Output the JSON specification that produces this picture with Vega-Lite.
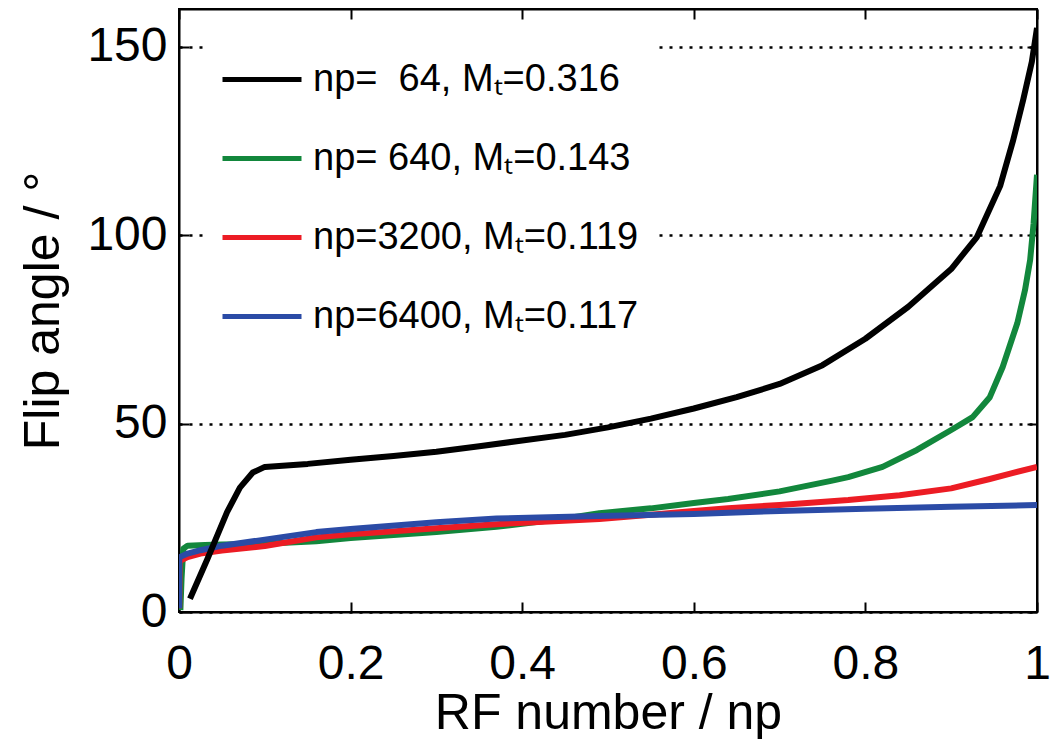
{
  "$schema": "https://vega.github.io/schema/vega-lite/v6.json",
  "autosize": {"type": "none"},
  "padding": {"left": 179, "top": 9, "right": 13, "bottom": 132},
  "width": 858,
  "height": 603,
  "background": "white",
  "config": {
    "view": {"stroke": "black", "strokeWidth": 2},
    "font": "Liberation Sans",
    "axis": {"labelFont": "Liberation Sans", "titleFont": "Liberation Sans", "labelColor": "black", "titleColor": "black", "domainColor": "black", "tickColor": "black", "domainWidth": 2, "tickWidth": 2, "titleFontWeight": "normal", "labelFlush": false}
  },
  "data": {"values": [
    {"s": "np=\u00a0640, M\u209c=0.143", "x": 0.0016, "y": 0.5},
    {"s": "np=\u00a0640, M\u209c=0.143", "x": 0.003, "y": 9},
    {"s": "np=\u00a0640, M\u209c=0.143", "x": 0.005, "y": 16.8},
    {"s": "np=\u00a0640, M\u209c=0.143", "x": 0.01, "y": 17.6},
    {"s": "np=\u00a0640, M\u209c=0.143", "x": 0.03, "y": 17.8},
    {"s": "np=\u00a0640, M\u209c=0.143", "x": 0.05, "y": 17.9},
    {"s": "np=\u00a0640, M\u209c=0.143", "x": 0.1, "y": 18.1},
    {"s": "np=\u00a0640, M\u209c=0.143", "x": 0.16, "y": 18.8},
    {"s": "np=\u00a0640, M\u209c=0.143", "x": 0.2, "y": 19.6},
    {"s": "np=\u00a0640, M\u209c=0.143", "x": 0.3, "y": 21.2},
    {"s": "np=\u00a0640, M\u209c=0.143", "x": 0.37, "y": 22.6},
    {"s": "np=\u00a0640, M\u209c=0.143", "x": 0.45, "y": 24.8},
    {"s": "np=\u00a0640, M\u209c=0.143", "x": 0.49, "y": 26.2},
    {"s": "np=\u00a0640, M\u209c=0.143", "x": 0.55, "y": 27.5},
    {"s": "np=\u00a0640, M\u209c=0.143", "x": 0.6, "y": 28.9},
    {"s": "np=\u00a0640, M\u209c=0.143", "x": 0.64, "y": 30},
    {"s": "np=\u00a0640, M\u209c=0.143", "x": 0.7, "y": 32},
    {"s": "np=\u00a0640, M\u209c=0.143", "x": 0.76, "y": 34.8},
    {"s": "np=\u00a0640, M\u209c=0.143", "x": 0.78, "y": 35.8},
    {"s": "np=\u00a0640, M\u209c=0.143", "x": 0.82, "y": 38.5},
    {"s": "np=\u00a0640, M\u209c=0.143", "x": 0.86, "y": 43},
    {"s": "np=\u00a0640, M\u209c=0.143", "x": 0.9, "y": 48.3},
    {"s": "np=\u00a0640, M\u209c=0.143", "x": 0.925, "y": 51.7},
    {"s": "np=\u00a0640, M\u209c=0.143", "x": 0.945, "y": 57},
    {"s": "np=\u00a0640, M\u209c=0.143", "x": 0.96, "y": 65},
    {"s": "np=\u00a0640, M\u209c=0.143", "x": 0.977, "y": 76.6},
    {"s": "np=\u00a0640, M\u209c=0.143", "x": 0.986, "y": 85.4},
    {"s": "np=\u00a0640, M\u209c=0.143", "x": 0.992, "y": 93.4},
    {"s": "np=\u00a0640, M\u209c=0.143", "x": 0.996, "y": 103},
    {"s": "np=\u00a0640, M\u209c=0.143", "x": 1.0, "y": 116},

    {"s": "np=3200, M\u209c=0.119", "x": 0.0003, "y": 1},
    {"s": "np=3200, M\u209c=0.119", "x": 0.0006, "y": 13.5},
    {"s": "np=3200, M\u209c=0.119", "x": 0.01, "y": 14.6},
    {"s": "np=3200, M\u209c=0.119", "x": 0.025, "y": 15.5},
    {"s": "np=3200, M\u209c=0.119", "x": 0.05, "y": 16.3},
    {"s": "np=3200, M\u209c=0.119", "x": 0.1, "y": 17.5},
    {"s": "np=3200, M\u209c=0.119", "x": 0.16, "y": 19.8},
    {"s": "np=3200, M\u209c=0.119", "x": 0.2, "y": 20.6},
    {"s": "np=3200, M\u209c=0.119", "x": 0.3, "y": 22.2},
    {"s": "np=3200, M\u209c=0.119", "x": 0.37, "y": 23.3},
    {"s": "np=3200, M\u209c=0.119", "x": 0.49, "y": 24.7},
    {"s": "np=3200, M\u209c=0.119", "x": 0.55, "y": 25.8},
    {"s": "np=3200, M\u209c=0.119", "x": 0.6, "y": 26.8},
    {"s": "np=3200, M\u209c=0.119", "x": 0.64, "y": 27.5},
    {"s": "np=3200, M\u209c=0.119", "x": 0.7, "y": 28.4},
    {"s": "np=3200, M\u209c=0.119", "x": 0.78, "y": 29.7},
    {"s": "np=3200, M\u209c=0.119", "x": 0.84, "y": 31},
    {"s": "np=3200, M\u209c=0.119", "x": 0.9, "y": 32.8},
    {"s": "np=3200, M\u209c=0.119", "x": 0.945, "y": 35.3},
    {"s": "np=3200, M\u209c=0.119", "x": 0.97, "y": 36.8},
    {"s": "np=3200, M\u209c=0.119", "x": 1.0, "y": 38.5},

    {"s": "np=6400, M\u209c=0.117", "x": 0.0001, "y": 1},
    {"s": "np=6400, M\u209c=0.117", "x": 0.0003, "y": 14.5},
    {"s": "np=6400, M\u209c=0.117", "x": 0.01, "y": 15.5},
    {"s": "np=6400, M\u209c=0.117", "x": 0.025, "y": 16.4},
    {"s": "np=6400, M\u209c=0.117", "x": 0.05, "y": 17.6},
    {"s": "np=6400, M\u209c=0.117", "x": 0.1, "y": 19.2},
    {"s": "np=6400, M\u209c=0.117", "x": 0.16, "y": 21.2},
    {"s": "np=6400, M\u209c=0.117", "x": 0.2, "y": 22},
    {"s": "np=6400, M\u209c=0.117", "x": 0.3, "y": 23.8},
    {"s": "np=6400, M\u209c=0.117", "x": 0.37, "y": 24.8},
    {"s": "np=6400, M\u209c=0.117", "x": 0.49, "y": 25.5},
    {"s": "np=6400, M\u209c=0.117", "x": 0.6, "y": 26},
    {"s": "np=6400, M\u209c=0.117", "x": 0.7, "y": 26.8},
    {"s": "np=6400, M\u209c=0.117", "x": 0.8, "y": 27.4},
    {"s": "np=6400, M\u209c=0.117", "x": 0.9, "y": 27.9},
    {"s": "np=6400, M\u209c=0.117", "x": 1.0, "y": 28.4},

    {"s": "np=\u00a0\u00a064, M\u209c=0.316", "x": 0.0128, "y": 3.5},
    {"s": "np=\u00a0\u00a064, M\u209c=0.316", "x": 0.033, "y": 14},
    {"s": "np=\u00a0\u00a064, M\u209c=0.316", "x": 0.056, "y": 26.5},
    {"s": "np=\u00a0\u00a064, M\u209c=0.316", "x": 0.071, "y": 33},
    {"s": "np=\u00a0\u00a064, M\u209c=0.316", "x": 0.086, "y": 37},
    {"s": "np=\u00a0\u00a064, M\u209c=0.316", "x": 0.1, "y": 38.5},
    {"s": "np=\u00a0\u00a064, M\u209c=0.316", "x": 0.15, "y": 39.3},
    {"s": "np=\u00a0\u00a064, M\u209c=0.316", "x": 0.2, "y": 40.4},
    {"s": "np=\u00a0\u00a064, M\u209c=0.316", "x": 0.25, "y": 41.4},
    {"s": "np=\u00a0\u00a064, M\u209c=0.316", "x": 0.3, "y": 42.5},
    {"s": "np=\u00a0\u00a064, M\u209c=0.316", "x": 0.35, "y": 44},
    {"s": "np=\u00a0\u00a064, M\u209c=0.316", "x": 0.4, "y": 45.5},
    {"s": "np=\u00a0\u00a064, M\u209c=0.316", "x": 0.45, "y": 47},
    {"s": "np=\u00a0\u00a064, M\u209c=0.316", "x": 0.5, "y": 49},
    {"s": "np=\u00a0\u00a064, M\u209c=0.316", "x": 0.55, "y": 51.3},
    {"s": "np=\u00a0\u00a064, M\u209c=0.316", "x": 0.6, "y": 54},
    {"s": "np=\u00a0\u00a064, M\u209c=0.316", "x": 0.65, "y": 57},
    {"s": "np=\u00a0\u00a064, M\u209c=0.316", "x": 0.7, "y": 60.5},
    {"s": "np=\u00a0\u00a064, M\u209c=0.316", "x": 0.75, "y": 65.5},
    {"s": "np=\u00a0\u00a064, M\u209c=0.316", "x": 0.8, "y": 72.5},
    {"s": "np=\u00a0\u00a064, M\u209c=0.316", "x": 0.85, "y": 81},
    {"s": "np=\u00a0\u00a064, M\u209c=0.316", "x": 0.9, "y": 91},
    {"s": "np=\u00a0\u00a064, M\u209c=0.316", "x": 0.93, "y": 99.5},
    {"s": "np=\u00a0\u00a064, M\u209c=0.316", "x": 0.957, "y": 113},
    {"s": "np=\u00a0\u00a064, M\u209c=0.316", "x": 0.972, "y": 125},
    {"s": "np=\u00a0\u00a064, M\u209c=0.316", "x": 0.984, "y": 136},
    {"s": "np=\u00a0\u00a064, M\u209c=0.316", "x": 0.994, "y": 146},
    {"s": "np=\u00a0\u00a064, M\u209c=0.316", "x": 1.0, "y": 155}
  ]},
  "layer": [
    {
      "mark": {"type": "line", "strokeWidth": 6, "strokeJoin": "round", "strokeCap": "butt", "clip": true},
      "encoding": {
        "x": {"field": "x", "type": "quantitative", "scale": {"domain": [0, 1], "nice": false, "zero": false},
          "axis": {"orient": "bottom", "values": [0, 0.2, 0.4, 0.6, 0.8, 1], "format": "~g", "labelFontSize": 48, "labelPadding": 38, "tickSize": -10, "title": "RF number / np", "titleFontSize": 50, "titlePadding": 0, "grid": false}},
        "y": {"field": "y", "type": "quantitative", "scale": {"domain": [0, 160], "nice": false, "zero": false},
          "axis": {"orient": "left", "values": [0, 50, 100, 150], "format": "d", "labelFontSize": 48, "labelPadding": 22, "tickSize": -10, "title": "Flip angle / \u00b0", "titleFontSize": 50, "titlePadding": 18, "grid": true, "gridColor": "black", "gridDash": [3, 7], "gridWidth": 2.5}},
        "color": {"field": "s", "type": "nominal",
          "scale": {"domain": ["np=\u00a0\u00a064, M\u209c=0.316", "np=\u00a0640, M\u209c=0.143", "np=3200, M\u209c=0.119", "np=6400, M\u209c=0.117"], "range": ["#000000", "#12873c", "#ec1c24", "#2b4ba6"]},
          "legend": {"orient": "none", "legendX": 24, "legendY": 14, "title": null, "fillColor": "white", "padding": 17, "symbolType": "stroke", "symbolSize": 6241, "symbolStrokeWidth": 5, "labelFontSize": 38, "labelFont": "Liberation Sans", "labelColor": "black", "labelOffset": 9, "rowPadding": 0, "clipHeight": 79, "labelLimit": 600}}
      }
    },
    {
      "mark": {"type": "line", "strokeOpacity": 0},
      "encoding": {
        "x": {"field": "x", "type": "quantitative", "scale": {"domain": [0, 1], "nice": false, "zero": false}, "axis": {"orient": "top", "values": [0, 0.2, 0.4, 0.6, 0.8, 1], "labels": false, "tickSize": -10, "title": null, "grid": false}},
        "y": {"field": "y", "type": "quantitative", "scale": {"domain": [0, 160], "nice": false, "zero": false}, "axis": {"orient": "right", "values": [0, 50, 100, 150], "labels": false, "tickSize": -10, "title": null, "grid": false}}
      }
    }
  ],
  "resolve": {"axis": {"x": "independent", "y": "independent"}}
}
